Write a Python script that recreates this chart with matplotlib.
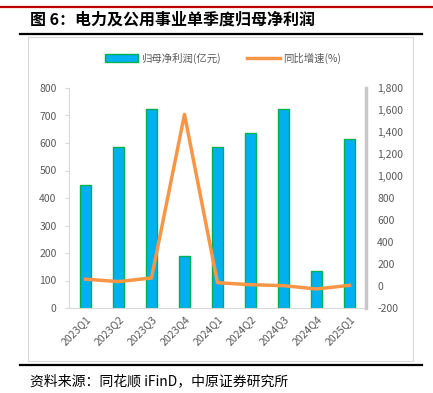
import matplotlib.pyplot as plt
import numpy as np
from matplotlib.patches import Rectangle
from matplotlib.lines import Line2D

plt.rcParams['font.family'] = ['Noto Sans CJK SC', 'DejaVu Sans']

# datos
trimestres = ['2023Q1', '2023Q2', '2023Q3', '2023Q4', '2024Q1',
              '2024Q2', '2024Q3', '2024Q4', '2025Q1']
beneficio = [449, 586, 722, 188, 586, 635, 725, 133, 613]
crecimiento = [62, 40, 73, 1560, 30, 12, 3, -27, 6]

gris = '#595959'

fig = plt.figure(figsize=(4.33, 3.93), dpi=100)

# marco y lineas del informe
fig.add_artist(Line2D([0, 1], [1 - 7/393, 1 - 7/393], color='#C00000', lw=1.6))
fig.add_artist(Line2D([20/433, 422/433], [1 - 34/393, 1 - 34/393], color='black', lw=1.6))
fig.add_artist(Line2D([20/433, 422/433], [1 - 365/393, 1 - 365/393], color='black', lw=1.6))
fig.add_artist(Rectangle((28/433, 1 - 361/393), 385/433, 324/393, fill=False,
                         edgecolor='#D9D9D9', lw=0.8))

titulo = '图 6：电力及公用事业单季度归母净利润'
fig.text(30/433, 1 - 20/393, titulo, fontsize=11.5,
         fontweight='bold', va='center', ha='left')
fig.text(30/433, 1 - 381/393, '资料来源：同花顺 iFinD，中原证券研究所', fontsize=10,
         va='center', ha='left')

ax = fig.add_axes([69/433, 1 - 308/393, 297/433, 220/393])
x = np.arange(len(trimestres))
barras = ax.bar(x, beneficio, width=0.33, color='#00B0F0', edgecolor='#00B050',
                linewidth=1.0, label='归母净利润(亿元)')
ax.set_ylim(0, 800)
ax.set_yticks(range(0, 801, 100))
ax.set_xlim(-0.5, len(trimestres) - 0.5)
ax.set_xticks(x)
ax.set_xticklabels(trimestres, rotation=45, ha='right', rotation_mode='anchor')
ax.tick_params(axis='both', colors=gris, labelsize=7.5, length=0, pad=4)
ax.tick_params(axis='y', length=3, color='#D9D9D9', pad=6)
for lado in ['top', 'right']:
    ax.spines[lado].set_visible(False)
ax.spines['left'].set_color('#D9D9D9')
ax.spines['bottom'].set_color('#D9D9D9')

ax2 = ax.twinx()
linea, = ax2.plot(x, crecimiento, color='#F79646', lw=2.5, label='同比增速(%)')
ax2.set_ylim(-200, 1800)
ax2.set_yticks(range(-200, 1801, 200))
ax2.set_yticklabels([f'{v:,}' for v in range(-200, 1801, 200)])
ax2.tick_params(axis='y', colors=gris, labelsize=7.5, length=0, pad=8)
for lado in ['top', 'left', 'bottom']:
    ax2.spines[lado].set_visible(False)
ax2.spines['right'].set_color('#C8C8C8')
ax2.spines['right'].set_linewidth(2.5)

fig.legend([barras, linea], ['归母净利润(亿元)', '同比增速(%)'], loc='center',
           bbox_to_anchor=(0.515, 1 - 58/393), ncol=2, frameon=False, fontsize=7.5,
           labelcolor=gris, handlelength=3.2, columnspacing=2.5, handletextpad=0.3)

fig.savefig('out.png', dpi=100)
